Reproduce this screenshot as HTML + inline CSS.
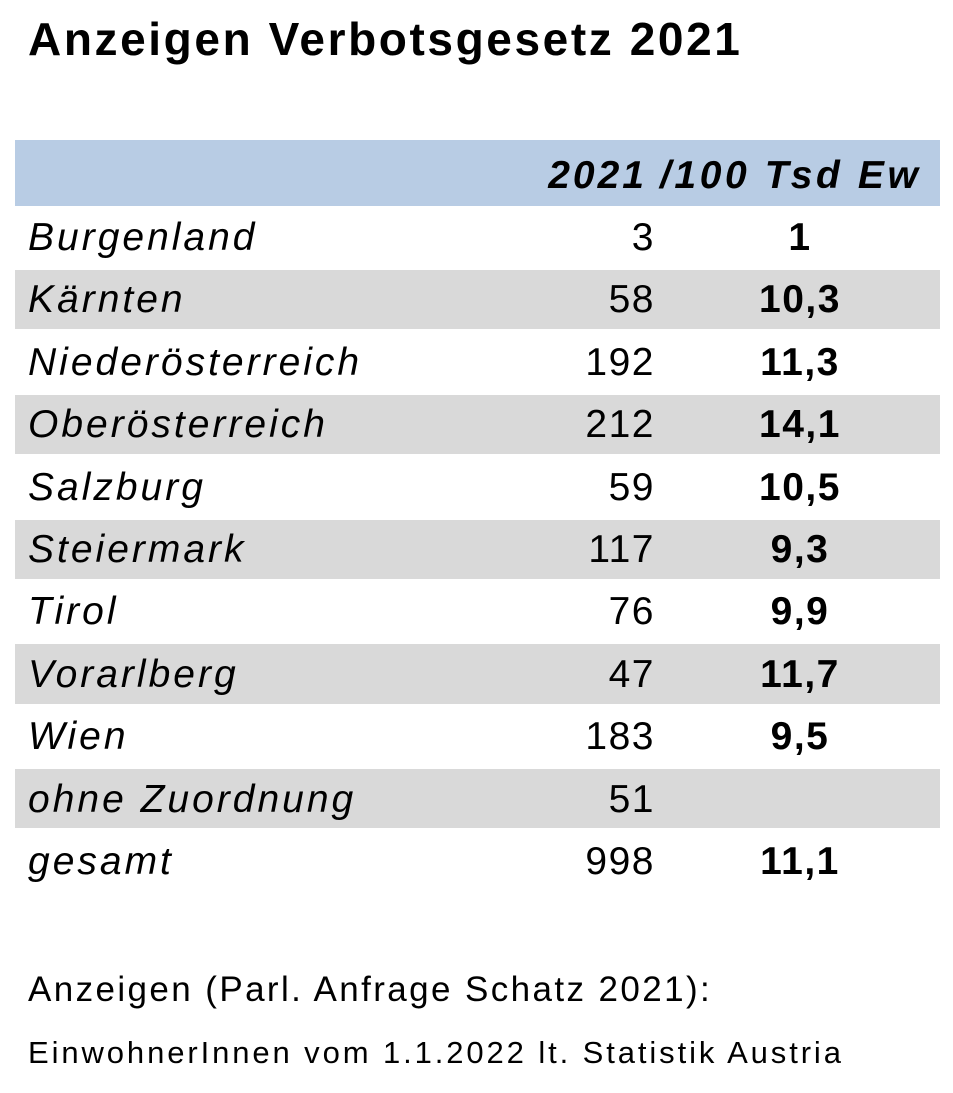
<!DOCTYPE html>
<html><head><meta charset="utf-8"><style>
body{margin:0;width:953px;height:1093px;background:#fff;position:relative;overflow:hidden;font-family:"Liberation Sans",sans-serif;color:#000}
.a{position:absolute;white-space:nowrap}
.title{left:28px;top:12px;font-size:46px;font-weight:bold;letter-spacing:2.6px}
.hdr{left:15px;top:140px;width:925px;height:66px;background:#b8cce4}
.row{position:absolute;left:15px;width:925px;height:62.4px}
.row.g .bg{position:absolute;left:0;top:1.5px;right:0;bottom:1.5px;background:#d9d9d9}
.name{position:absolute;left:13px;top:10px;font-size:39px;font-style:italic;letter-spacing:3px}
.cnt{position:absolute;right:285px;top:10px;font-size:39px;letter-spacing:1.5px}
.rate{position:absolute;left:735px;width:100px;text-align:center;top:10px;font-size:39px;font-weight:bold;letter-spacing:1.5px}
.h{font-size:39px;font-weight:bold;font-style:italic;top:154px}
.foot{left:28px;font-size:35px}
</style></head><body>
<div class="a title">Anzeigen Verbotsgesetz 2021</div>
<div class="a hdr"></div>
<div class="a h" style="right:306px;letter-spacing:3px">2021</div>
<div class="a h" style="left:660px;letter-spacing:3.6px">/100 Tsd Ew</div>
<div id="tbl"></div>
<div class="a foot" style="top:970px;letter-spacing:2.4px">Anzeigen (Parl. Anfrage Schatz 2021):</div>
<div class="a foot" style="top:1035px;font-size:31px;letter-spacing:2.9px">EinwohnerInnen vom 1.1.2022 lt. Statistik Austria</div>
<script>
const regions=["Burgenland","Kärnten","Niederösterreich","Oberösterreich","Salzburg","Steiermark","Tirol","Vorarlberg","Wien","ohne Zuordnung","gesamt"];
const counts=["3","58","192","212","59","117","76","47","183","51","998"];
const rates=["1","10,3","11,3","14,1","10,5","9,3","9,9","11,7","9,5","","11,1"];
const tbl=document.getElementById('tbl');
regions.forEach((r,i)=>{
  const row=document.createElement('div');
  row.className='row'+(i%2===1?' g':'');
  row.style.top=(206+i*62.4)+'px';
  
  
  row.innerHTML='<div class="bg"></div>';
  const n=document.createElement('div');n.className='name';n.textContent=r;
  
  
  const c=document.createElement('div');c.className='cnt';c.textContent=counts[i];
  
  
  const t=document.createElement('div');t.className='rate';t.textContent=rates[i];
  
  
  row.appendChild(n);row.appendChild(c);row.appendChild(t);
  tbl.appendChild(row);
});
</script>
</body></html>
